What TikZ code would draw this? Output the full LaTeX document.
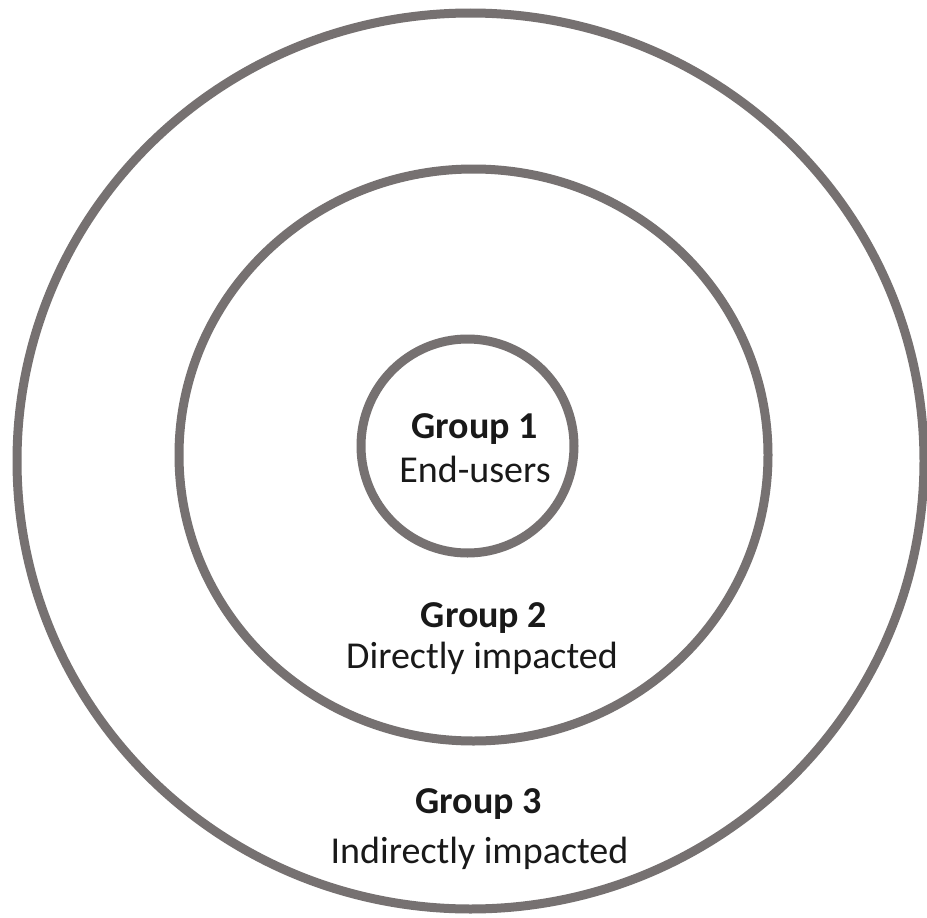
\documentclass[tikz,border=0pt]{standalone}
\usepackage{fontspec}
\setmainfont{Carlito}
\usepackage{tikz}
\usetikzlibrary{positioning}

\definecolor{ringgray}{RGB}{118,113,113}
\definecolor{textdark}{RGB}{25,25,25}

\begin{document}
\begin{tikzpicture}[x=1pt,y=-1pt,
          ring/.style={draw=ringgray,line width=9pt},
          every node/.style={font=\fontsize{38}{45}\selectfont,text=textdark,
            anchor=base,inner sep=0pt}]
        \useasboundingbox (0,0) rectangle (927,918);
        \fill[white] (0,0) rectangle (927,918);
        % rings
        \draw[ring] (470.5,461) ellipse [x radius=453.5,y radius=448];
        \draw[ring] (473.5,455) ellipse [x radius=294.5,y radius=286];
        \draw[ring] (467.5,446) ellipse [x radius=106.5,y radius=107];
        % labels
        \node (g1)  at (474.5,438) {\bfseries Group 1};
        \node (eu)  at (475,482)   {End-users};
        \node (g2)  at (484,627)   {\bfseries Group 2};
        \node (di)  at (482,668)   {Directly impacted};
        \node (g3)  at (478.5,813) {\bfseries Group 3};
        \node (ii)  at (479.5,863) {Indirectly impacted};
      \end{tikzpicture}
\end{document}
